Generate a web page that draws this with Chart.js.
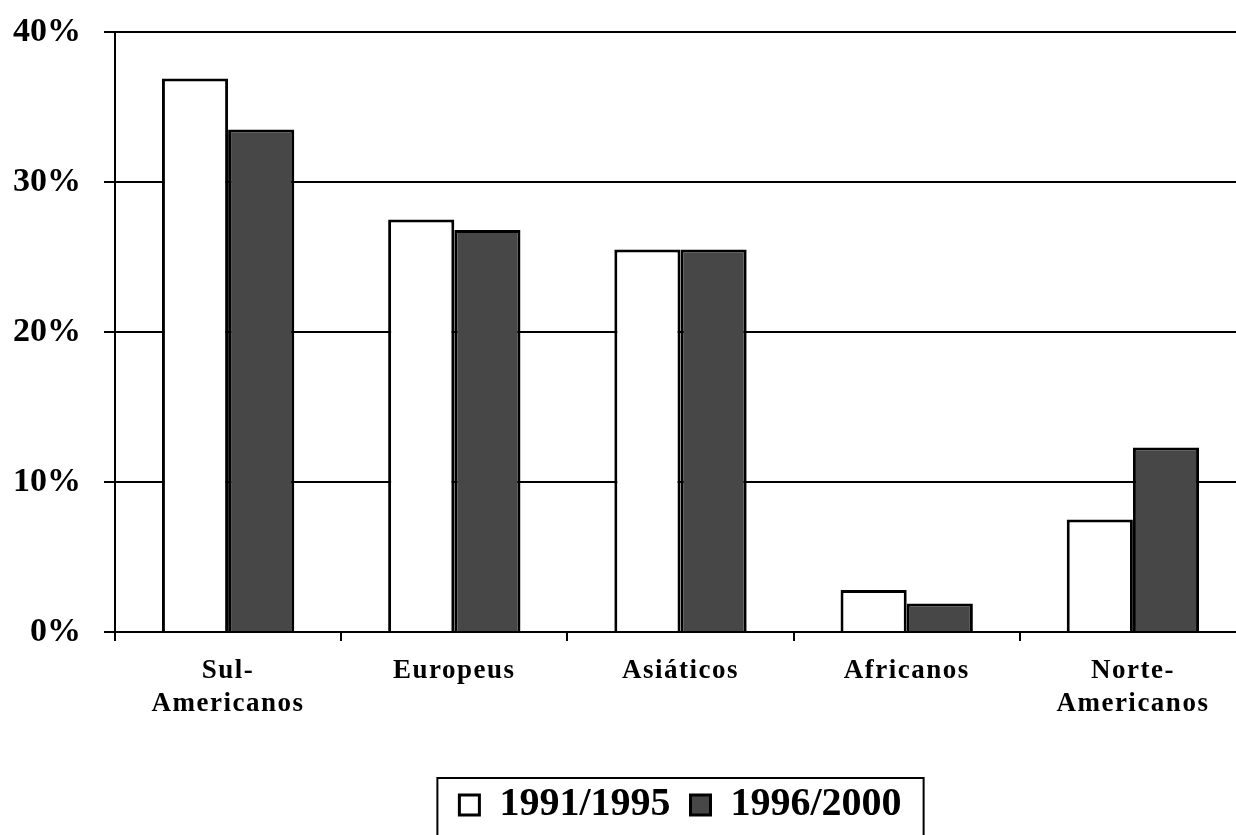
<!DOCTYPE html>
<html>
<head>
<meta charset="utf-8">
<script src="https://cdn.jsdelivr.net/npm/chart.js@4/dist/chart.umd.min.js"></script>
<style>
  html, body { margin: 0; padding: 0; background: #fff; overflow: hidden; }
  #wrap { width: 1246px; height: 835px; }
</style>
</head>
<body>
<div id="wrap"><canvas id="myChart" width="1246" height="835"></canvas></div>
<script>
// values (percent)
const categories = [['Sul-', 'Americanos'], 'Europeus', 'Asiáticos', 'Africanos', ['Norte-', 'Americanos']];
const seriesNames = ['1991/1995', '1996/2000'];
const values9195 = [36.9, 27.5, 25.5, 2.8, 7.5];
const values9600 = [33.5, 26.8, 25.5, 1.9, 12.3];
const yTicks = [0, 10, 20, 30, 40];

const serif = "'Liberation Serif', 'Times New Roman', serif";

// x labels in the picture are spaced out a bit
const spacing = {
  id: 'spacing',
  afterUpdate(chart) {
    const s = chart.scales.x;
    if (s._spaced) return;
    const orig = s.drawLabels;
    s.drawLabels = function (area) {
      const ctx = this.ctx;
      ctx.save();
      ctx.letterSpacing = '1.5px';
      orig.call(this, area);
      ctx.restore();
    };
    s._spaced = true;
  }
};

// frame round the legend
const legendFrame = {
  id: 'legendFrame',
  afterDraw(chart) {
    const hb = chart.legend.legendHitBoxes;
    if (!hb || !hb.length) return;
    const last = hb[hb.length - 1];
    const mid = hb[0].top + hb[0].height / 2;
    const left = hb[0].left - 22;
    const right = last.left + last.width + 22;
    const top = mid - 27;
    const ctx = chart.ctx;
    ctx.save();
    ctx.strokeStyle = '#000';
    ctx.lineWidth = 2;
    ctx.strokeRect(left, top, right - left, chart.height + 10 - top);
    ctx.restore();
  }
};

const ctx = document.getElementById('myChart').getContext('2d');
new Chart(ctx, {
  type: 'bar',
  data: {
    labels: categories,
    datasets: [
      {
        label: seriesNames[0],
        data: values9195,
        backgroundColor: '#ffffff',
        borderColor: '#000000',
        borderWidth: 3
      },
      {
        label: seriesNames[1],
        data: values9600,
        backgroundColor: '#474747',
        borderColor: '#000000',
        borderWidth: 3
      }
    ]
  },
  options: {
    responsive: false,
    animation: false,
    devicePixelRatio: 1,
    layout: { padding: { top: 32, right: 0, left: 0, bottom: 0 } },
    datasets: { bar: { barPercentage: 1.0, categoryPercentage: 0.585 } },
    scales: {
      x: {
        grid: { drawOnChartArea: false, drawTicks: true, tickLength: 9, color: '#000', lineWidth: 2 },
        border: { color: '#000', width: 2 },
        ticks: {
          color: '#000',
          padding: 14,
          maxRotation: 0,
          font: { family: serif, size: 27, weight: 'bold', lineHeight: 1.22 }
        },
        afterFit(scale) { scale.height = 133; }
      },
      y: {
        min: 0,
        max: 40,
        afterBuildTicks(scale) { scale.ticks = yTicks.map(v => ({ value: v })); },
        grid: { color: '#000', lineWidth: 2, tickLength: 11 },
        border: { color: '#000', width: 2 },
        ticks: {
          color: '#000',
          padding: 23,
          font: { family: serif, size: 34, weight: 'bold' },
          callback: v => v + '%'
        },
        afterFit(scale) {
          scale.width = 115;
          scale.paddingTop = 0;
        }
      }
    },
    plugins: {
      tooltip: { enabled: false },
      legend: {
        position: 'bottom',
        fullSize: false,
        labels: {
          color: '#000',
          boxWidth: 20,
          boxHeight: 20,
          padding: 20,
          font: { family: serif, size: 40, weight: 'bold' }
        }
      }
    }
  },
  plugins: [spacing, legendFrame]
});
</script>
</body>
</html>
